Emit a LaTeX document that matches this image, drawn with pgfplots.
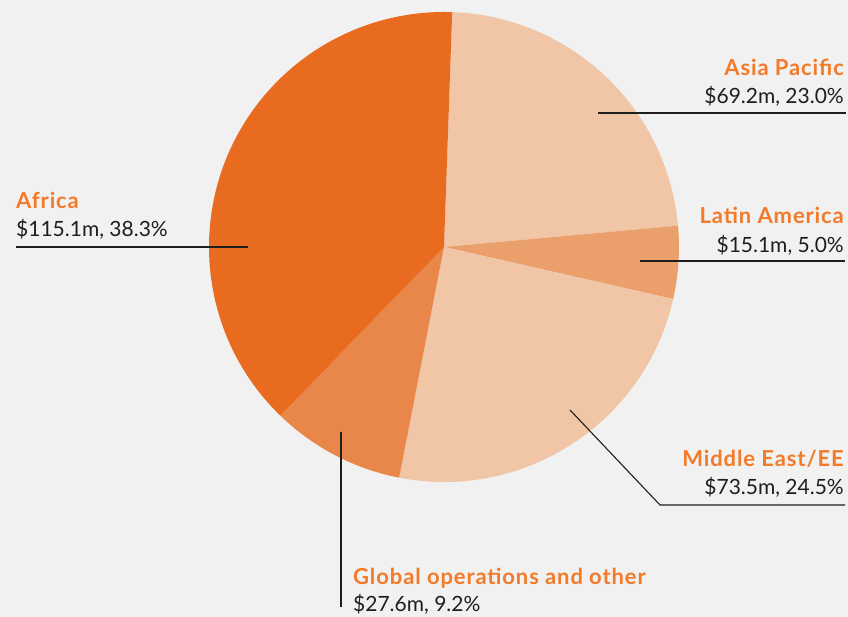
\documentclass[border=0pt]{standalone}
\usepackage{fontspec}
\setmainfont{Lato}
\usepackage{pgfplots}
\usepackage{pgfplotstable}
\pgfplotsset{compat=1.18}
\definecolor{bgcol}{RGB}{241,241,241}
\definecolor{cAfr}{RGB}{232,107,32}
\definecolor{cAsia}{RGB}{240,198,167}
\definecolor{cLatin}{RGB}{235,160,108}
\definecolor{cMid}{RGB}{240,198,167}
\definecolor{cGlob}{RGB}{232,135,73}
\definecolor{labelorange}{RGB}{243,122,40}
\definecolor{leadcol}{RGB}{30,30,30}

% region, value ($m), share (%), colour
\pgfplotstableread[col sep=comma]{
name,value,pct,col
Asia Pacific,69.2,23.0,cAsia
Latin America,15.1,5.0,cLatin
Middle East/EE,73.5,24.5,cMid
Global operations and other,27.6,9.2,cGlob
Africa,115.1,38.3,cAfr
}\piedata

\newcommand{\headfont}{\fontsize{22}{26}\selectfont\bfseries\addfontfeatures{LetterSpace=4}}
\newcommand{\valfont}{\fontsize{21}{25}\selectfont}

\begin{document}
\begin{tikzpicture}
\begin{axis}[
    width=848pt, height=617pt, scale only axis,
    xmin=0, xmax=848, ymin=0, ymax=617,
    hide axis, clip=false,
]
\fill[bgcol] (axis cs:0,0) rectangle (axis cs:848,617);
\pgfplotsextra{
  \gdef\startang{88}
  \pgfplotstablegetrowsof{\piedata}
  \pgfmathtruncatemacro\lastrow{\pgfplotsretval-1}
  \foreach \i in {0,...,\lastrow}{
    \pgfplotstablegetelem{\i}{pct}\of\piedata \let\slicepct\pgfplotsretval
    \pgfplotstablegetelem{\i}{col}\of\piedata \let\slicecol\pgfplotsretval
    \pgfmathsetmacro\endang{\startang-3.6*\slicepct}
    \fill[\slicecol] (axis cs:444,370) -- ++(\startang:235pt)
      arc[start angle=\startang, end angle=\endang, radius=235pt] -- cycle;
    \xdef\startang{\endang}
  }
}
% leader lines
\draw[leadcol, line width=1.1pt] (axis cs:598,504) -- (axis cs:846,504);
\draw[leadcol, line width=1.1pt] (axis cs:640,356) -- (axis cs:845,356);
\draw[leadcol, line width=1.1pt] (axis cs:16,370) -- (axis cs:248,370);
\draw[leadcol, line width=1.1pt] (axis cs:570,207) -- (axis cs:660,112) -- (axis cs:845,112);
\draw[leadcol, line width=1.1pt] (axis cs:341,185) -- (axis cs:341,10);
% labels
\begin{scope}[every node/.style={inner sep=0pt}]
\node[anchor=base east, text=labelorange, font=\headfont] at (axis cs:844,541) {Asia Pacific};
\node[anchor=base east, text=leadcol, font=\valfont] at (axis cs:844,513) {\$69.2m, 23.0\%};
\node[anchor=base east, text=labelorange, font=\headfont] at (axis cs:844,393) {Latin America};
\node[anchor=base east, text=leadcol, font=\valfont] at (axis cs:844,364) {\$15.1m, 5.0\%};
\node[anchor=base west, text=labelorange, font=\headfont] at (axis cs:16,408) {Africa};
\node[anchor=base west, text=leadcol, font=\valfont] at (axis cs:16,380) {\$115.1m, 38.3\%};
\node[anchor=base east, text=labelorange, font=\headfont] at (axis cs:844,150) {Middle East/EE};
\node[anchor=base east, text=leadcol, font=\valfont] at (axis cs:844,122) {\$73.5m, 24.5\%};
\node[anchor=base west, text=labelorange, font=\headfont] at (axis cs:353,32) {Global operations and other};
\node[anchor=base west, text=leadcol, font=\valfont] at (axis cs:353,5) {\$27.6m, 9.2\%};
\end{scope}
\end{axis}
\end{tikzpicture}
\end{document}
